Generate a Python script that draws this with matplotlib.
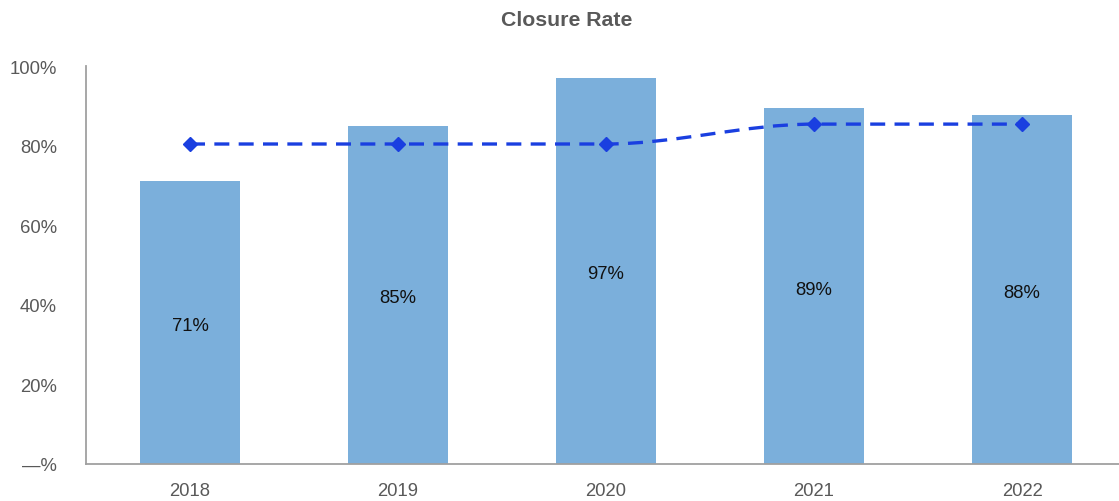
import matplotlib
matplotlib.use("Agg")

import matplotlib.pyplot as plt
from matplotlib.path import Path
from matplotlib.patches import PathPatch
import numpy as np

years = ["2018", "2019", "2020", "2021", "2022"]
closure_rate = [0.71, 0.85, 0.97, 0.894, 0.877]
bar_labels = ["71%", "85%", "97%", "89%", "88%"]
target_rate = [0.804, 0.804, 0.804, 0.854, 0.854]
y_ticks = [0, 0.2, 0.4, 0.6, 0.8, 1.0]
y_tick_labels = ["\u2014%", "20%", "40%", "60%", "80%", "100%"]

BAR_COLOR = "#7bafdb"
LINE_COLOR = "#1a3fe0"
TEXT_GRAY = "#595959"
AXIS_GRAY = "#a0a0a0"


def smooth_path(xs, ys):
    # cubic bezier segments with flat tangents at each point
    verts = [(xs[0], ys[0])]
    codes = [Path.MOVETO]
    for i in range(len(xs) - 1):
        dx = (xs[i + 1] - xs[i]) / 3
        verts += [(xs[i] + dx, ys[i]), (xs[i + 1] - dx, ys[i + 1]), (xs[i + 1], ys[i + 1])]
        codes += [Path.CURVE4] * 3
    return Path(verts, codes)


def main():
    plt.rcParams["font.family"] = ["Liberation Sans", "DejaVu Sans"]

    fig = plt.figure(figsize=(11.19, 5.02), dpi=100)
    ax = fig.add_axes([86 / 1119, 1 - 465 / 502, 1 - 86 / 1119, (465 - 67) / 502])

    x = np.arange(len(years))
    ax.bar(x, closure_rate, width=0.48, color=BAR_COLOR, zorder=1)

    for xi, val, lab in zip(x, closure_rate, bar_labels):
        ax.annotate(lab, (xi, val / 2), xytext=(0, -3), textcoords="offset pixels",
                    ha="center", va="center", fontsize=13.3, color="#111111", zorder=3)

    patch = PathPatch(smooth_path(x, target_rate), facecolor="none", edgecolor=LINE_COLOR,
                      linewidth=2.4, linestyle=(0, (4.5, 2.8)), zorder=2)
    ax.add_patch(patch)
    ax.plot(x, target_rate, linestyle="none", marker="D", markersize=7.5,
            color=LINE_COLOR, zorder=3)

    ax.set_xlim(-0.5, 4.466)
    ax.set_ylim(0, 1.0)
    ax.set_xticks(x)
    ax.set_xticklabels(years)
    ax.set_yticks(y_ticks)
    ax.set_yticklabels(y_tick_labels)
    ax.tick_params(axis="both", length=0, labelsize=13.3, labelcolor=TEXT_GRAY)
    ax.tick_params(axis="y", pad=21)
    ax.tick_params(axis="x", pad=13)

    for side in ["top", "right"]:
        ax.spines[side].set_visible(False)
    for side in ["left", "bottom"]:
        ax.spines[side].set_color(AXIS_GRAY)
        ax.spines[side].set_linewidth(1.3)

    fig.text(567 / 1119, 1 - 21 / 502, "Closure Rate", ha="center", va="center",
             fontsize=15.3, fontweight="bold", color=TEXT_GRAY)

    fig.savefig("out.png", dpi=100)
    plt.close(fig)


if __name__ == "__main__":
    main()
